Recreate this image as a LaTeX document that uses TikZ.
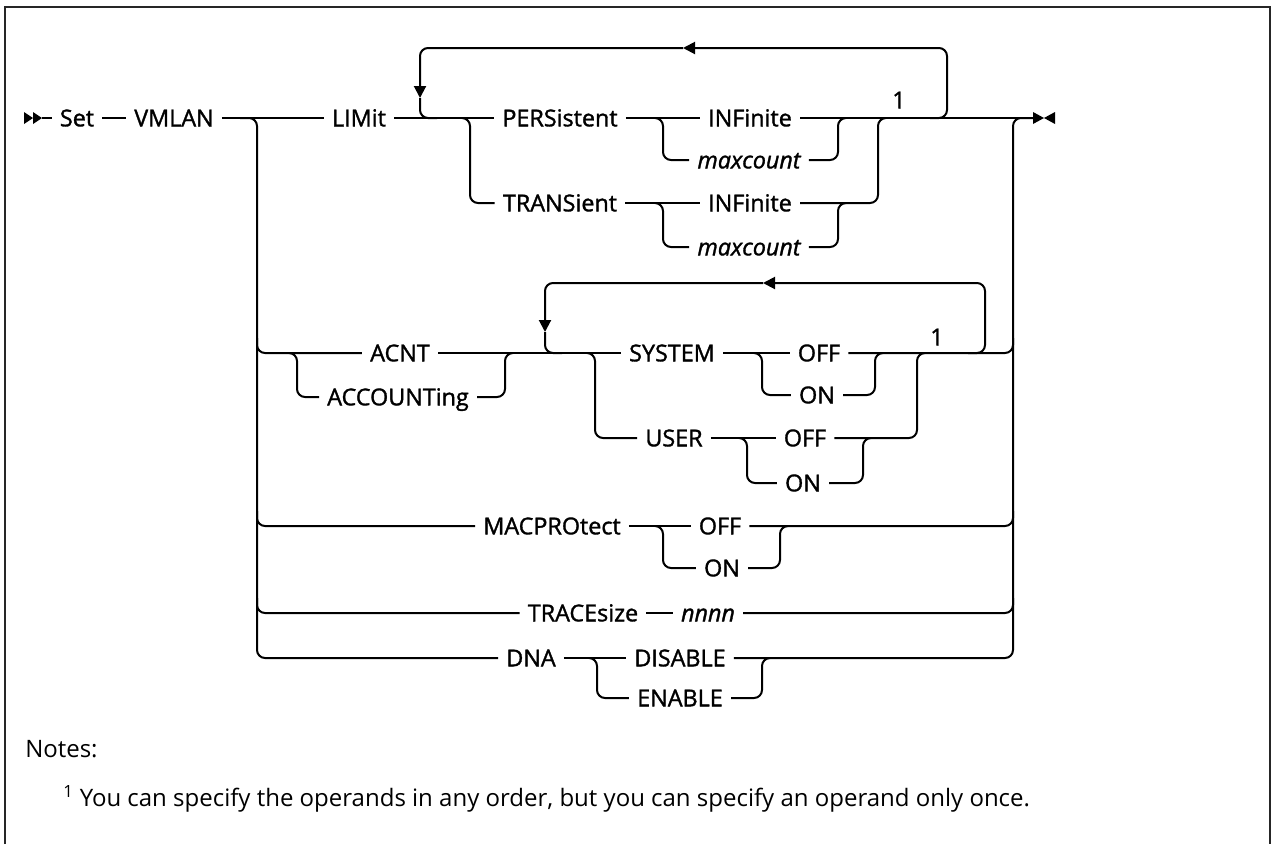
\documentclass[tikz,border=0pt]{standalone}
\usepackage{fontspec}
\setmainfont{Open Sans}
\newfontfamily\rrfont[FakeBold=1.4]{Open Sans}
\usetikzlibrary{arrows.meta}

\begin{document}
\begin{tikzpicture}[x=0.75pt,y=-0.75pt,
  rr/.style={line width=1.5pt,rounded corners=6pt},
  kw/.style={font=\rrfont\fontsize{17.5}{20}\selectfont,inner xsep=6pt,inner ysep=0pt,text height=15pt,text depth=2.5pt},
  var/.style={kw,font=\rrfont\itshape\fontsize{17.5}{20}\selectfont},
  fnmark/.style={font=\rrfont\fontsize{17.5}{20}\selectfont,inner sep=0pt},
  looptip/.style={rr,-{Triangle[length=9pt,width=9pt]}}]
\useasboundingbox (0,0) rectangle (1273,844);
\draw[line width=1.5pt,black!85] (5,844) -- (5,7) -- (1270,7) -- (1270,844);

% main line
\fill (24,112) -- (33,118) -- (24,124) -- cycle (33,112) -- (42,118) -- (33,124) -- cycle;
\coordinate (start) at (42,118);
\node[kw] (set) at (77,118) {Set};
\node[kw] (vmlan) at (174,118) {VMLAN};
\draw[rr] (start) -- (set);
\draw[rr] (set) -- (vmlan);
\coordinate (stop) at (1033,118);
\fill (1033,112) -- (1044,118) -- (1033,124) -- cycle (1055,112) -- (1044,118) -- (1055,124) -- cycle;

% LIMit
\node[kw] (limit) at (359,118) {LIMit};
\node[kw] (persist) at (560,118) {PERSistent};
\node[kw] (trans) at (560,203) {TRANSient};
\node[kw] (inf1) at (750,118) {INFinite};
\node[var] (maxc1) at (749,160) {maxcount};
\node[kw] (inf2) at (750,203) {INFinite};
\node[var] (maxc2) at (749,247) {maxcount};
\node[fnmark] (fn1) at (899,100) {1};
\draw[rr] (vmlan) -- (limit);
\draw[rr] (limit) -- (persist);
\draw[rr] (462,118) -| (470,203) -- (trans.west);
\draw[rr] (persist) -- (inf1);
\draw[rr] (655,118) -| (663,160) -- (maxc1.west);
\draw[rr] (maxc1.east) -| (838,118) -- (846,118);
\draw[rr] (trans) -- (inf2);
\draw[rr] (655,203) -| (663,247) -- (maxc2.west);
\draw[rr] (maxc2.east) -| (838,203) -- (846,203);
\draw[rr] (inf2.east) -| (878,118) -- (886,118);
\draw[rr] (inf1.east) -- (stop);
\draw[looptip] (930,118) -| (947,48) -- (683,48);
\draw[looptip] (683,48) -| (420,98);
\draw[rr] (420,98) |- (437,118);

% ACNT
\node[kw] (acnt) at (400,353) {ACNT};
\node[kw] (accounting) at (398,397) {ACCOUNTing};
\node[kw] (system) at (672,353) {SYSTEM};
\node[kw] (sysoff) at (819,353) {OFF};
\node[kw] (syson) at (817,395) {ON};
\node[kw] (user) at (674,438) {USER};
\node[kw] (usroff) at (805,438) {OFF};
\node[kw] (usron) at (803,483) {ON};
\node[fnmark] (fn2) at (937,337) {1};
\draw[rr] (257,338) |- (acnt.west);
\draw[rr] (289,353) -| (297,397) -- (accounting.west);
\draw[rr] (accounting.east) -| (505,353) -- (513,353);
\draw[rr] (acnt) -- (system);
\draw[rr] (587,353) -| (595,438) -- (user.west);
\draw[rr] (system) -- (sysoff);
\draw[rr] (754,353) -| (762,395) -- (syson.west);
\draw[rr] (syson.east) -| (875,353) -- (883,353);
\draw[rr] (user) -- (usroff);
\draw[rr] (739,438) -| (747,483) -- (usron.west);
\draw[rr] (usron.east) -| (863,438) -- (871,438);
\draw[rr] (usroff.east) -| (917,353) -- (925,353);
\draw[rr] (sysoff.east) -| (1013,338);
\draw[looptip] (968,353) -| (985,283) -- (763,283);
\draw[looptip] (763,283) -| (545,332);
\draw[rr] (545,332) |- (562,353);

% MACPROtect
\node[kw] (macpro) at (552,526) {MACPROtect};
\node[kw] (macoff) at (720,526) {OFF};
\node[kw] (macon) at (722,568) {ON};
\draw[rr] (257,511) |- (macpro.west);
\draw[rr] (macpro) -- (macoff);
\draw[rr] (655,526) -| (663,568) -- (macon.west);
\draw[rr] (macon.east) -| (780,526) -- (788,526);
\draw[rr] (macoff.east) -| (1013,511);

% TRACEsize
\node[kw] (trace) at (583,613) {TRACEsize};
\node[var] (nnnn) at (708,613) {nnnn};
\draw[rr] (257,598) |- (trace.west);
\draw[rr] (trace) -- (nnnn);
\draw[rr] (nnnn.east) -| (1013,598);

% DNA
\node[kw] (dna) at (531,658) {DNA};
\node[kw] (disable) at (680,658) {DISABLE};
\node[kw] (enable) at (680,698) {ENABLE};
\draw[rr] (dna) -- (disable);
\draw[rr] (589,658) -| (597,698) -- (enable.west);
\draw[rr] (enable.east) -| (762,658) -- (770,658);

% left and right bars
\draw[rr] (240,118) -| (257,658) -- (dna.west);
\draw[rr] (disable.east) -| (1013,118) -- (stop);

% notes
\node[anchor=base west,inner sep=0pt,font=\fontsize{18}{22}\selectfont] (notes) at (25,757) {Notes:};
\node[anchor=base west,inner sep=0pt,font=\fontsize{18}{22}\selectfont] (note1) at (63,806) {\textsuperscript{1} You can specify the operands in any order, but you can specify an operand only once.};
\end{tikzpicture}
\end{document}
